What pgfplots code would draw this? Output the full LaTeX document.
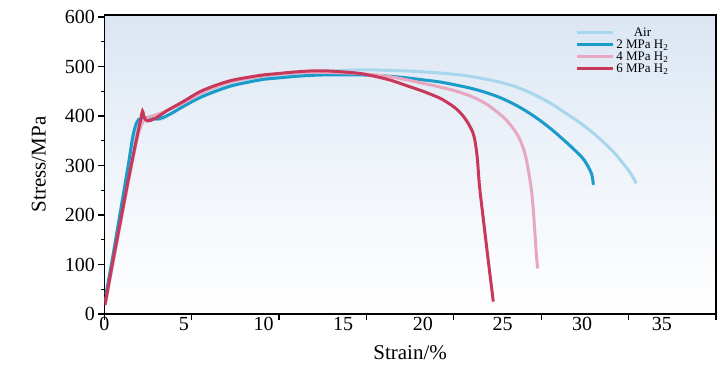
\documentclass[border=0pt]{standalone}
\usepackage{pgfplots}
\pgfplotsset{compat=1.18}
\usepackage{fontspec}
\setmainfont{Liberation Serif}
\definecolor{cAir}{RGB}{168,214,236}
\definecolor{cTwo}{RGB}{26,155,201}
\definecolor{cFour}{RGB}{232,167,192}
\definecolor{cSix}{RGB}{200,56,90}
\definecolor{bgtop}{RGB}{219,230,243}
\begin{document}
\begin{tikzpicture}
\begin{axis}[
  scale only axis,
  width=611.7pt, height=299pt,
  xmin=0, xmax=38.4, ymin=0, ymax=604,
  axis background/.style={shade, top color=bgtop, bottom color=white, middle color=bgtop!45},
  /pgf/number format/assume math mode=true,
  tick pos=left, tick align=outside,
  major tick length=6pt, minor tick length=3.5pt,
  every tick/.style={black, line width=1.2pt},
  axis line style={line width=1.2pt},
  xtick={0,5.4857,10.9714,16.4571,21.9429,27.4286,32.9143,38.4},
  xticklabels={},
  minor x tick num=1,
  extra x ticks={0,5,10,15,20,25,30,35},
  extra x tick labels={0,5,10,15,20,25,30,35},
  extra x tick style={major tick length=0pt},
  ytick={0,100,200,300,400,500,600},
  minor y tick num=1,
  tick label style={font=\fontsize{20}{22}\selectfont},
  xlabel={Strain/\%}, ylabel={Stress/MPa},
  label style={font=\fontsize{21}{23}\selectfont},
  xlabel style={yshift=-2pt},
  ylabel style={yshift=12pt},
  legend style={at={(0.765,0.972)}, anchor=north west, draw=none, fill=none,
    font=\fontsize{13}{14}\selectfont, row sep=-2pt},
  legend cell align=center,
  legend image code/.code={\draw[#1, line width=3pt] (0pt,0pt) -- (36pt,0pt);},
]
\addplot[cAir, line width=3pt, smooth, tension=0.55] coordinates {
(0.1,30) (0.5,100) (1.0,190) (1.5,290) (2.0,370) (2.3,392) (2.8,396) (3.3,393) (3.7,395) (4.2,405) (5,420) (6,438) (7,452) (8,462) (9,470) (10,476) (11,481) (12,485) (13,488) (14,490) (15,492) (16,493) (17,493) (18,492) (19,491) (20,489) (21,487) (22,484) (23,480) (24,474) (25,467) (26,457) (27,443) (28,426) (29,405) (30,383) (31,357) (32,326) (32.5,307) (33,286) (33.4,264)
};
\addlegendentry{Air}
\addplot[cTwo, line width=3pt, smooth, tension=0.55] coordinates {
(0.1,40) (0.5,110) (1.0,205) (1.5,300) (1.8,360) (2.05,388) (2.3,395) (2.8,397) (3.2,394) (3.6,396) (4.2,405) (5,420) (6,437) (7,450) (8,461) (9,468) (10,474) (11,477) (12,480) (13,482) (14,483) (15,483) (16,483) (17,482) (18,480) (19,477) (20,473) (21,469) (22,463) (23,456) (24,447) (25,435) (26,419) (27,399) (28,375) (29,347) (29.5,332) (30,316) (30.3,302) (30.6,282) (30.7,261)
};
\addlegendentry{2 MPa H\textsubscript{2}}
\addplot[cFour, line width=3pt, smooth, tension=0.55] coordinates {
(0.1,25) (0.5,95) (1.0,180) (1.5,265) (2.0,345) (2.3,380) (2.6,395) (3.0,400) (3.5,405) (4,412) (5,427) (6,445) (7,459) (8,469) (9,476) (10,481) (11,485) (12,487) (13,488) (14,488) (15,487) (16,486) (17,483) (18,479) (19,473) (20,466) (21,459) (22,451) (23,440) (24,424) (25,399) (25.5,382) (26,358) (26.3,335) (26.5,311) (26.7,275) (26.85,240) (27.0,180) (27.1,130) (27.2,92)
};
\addlegendentry{4 MPa H\textsubscript{2}}
\addplot[cSix, line width=3pt, smooth, tension=0.55] coordinates {
(0.04,18) (0.5,100) (1.0,185) (1.5,270) (2.0,350) (2.3,395) (2.4,410) (2.5,398) (2.7,390) (3.2,395) (3.9,410) (5,430) (6,449) (7,462) (8,472) (9,478) (10,483) (11,486) (12,489) (13,491) (14,491) (15,489) (16,486) (17,480) (18,472) (19,461) (20,450) (21,437) (21.5,428) (22,417) (22.5,401) (22.9,382) (23.2,360) (23.4,320) (23.55,260) (23.8,190) (24.1,109) (24.42,25)
};
\addlegendentry{6 MPa H\textsubscript{2}}
\end{axis}
\path[use as bounding box] ([xshift=-104.3pt,yshift=-69pt]current axis.south west) rectangle ([xshift=11pt,yshift=15pt]current axis.north east);
\end{tikzpicture}
\end{document}
